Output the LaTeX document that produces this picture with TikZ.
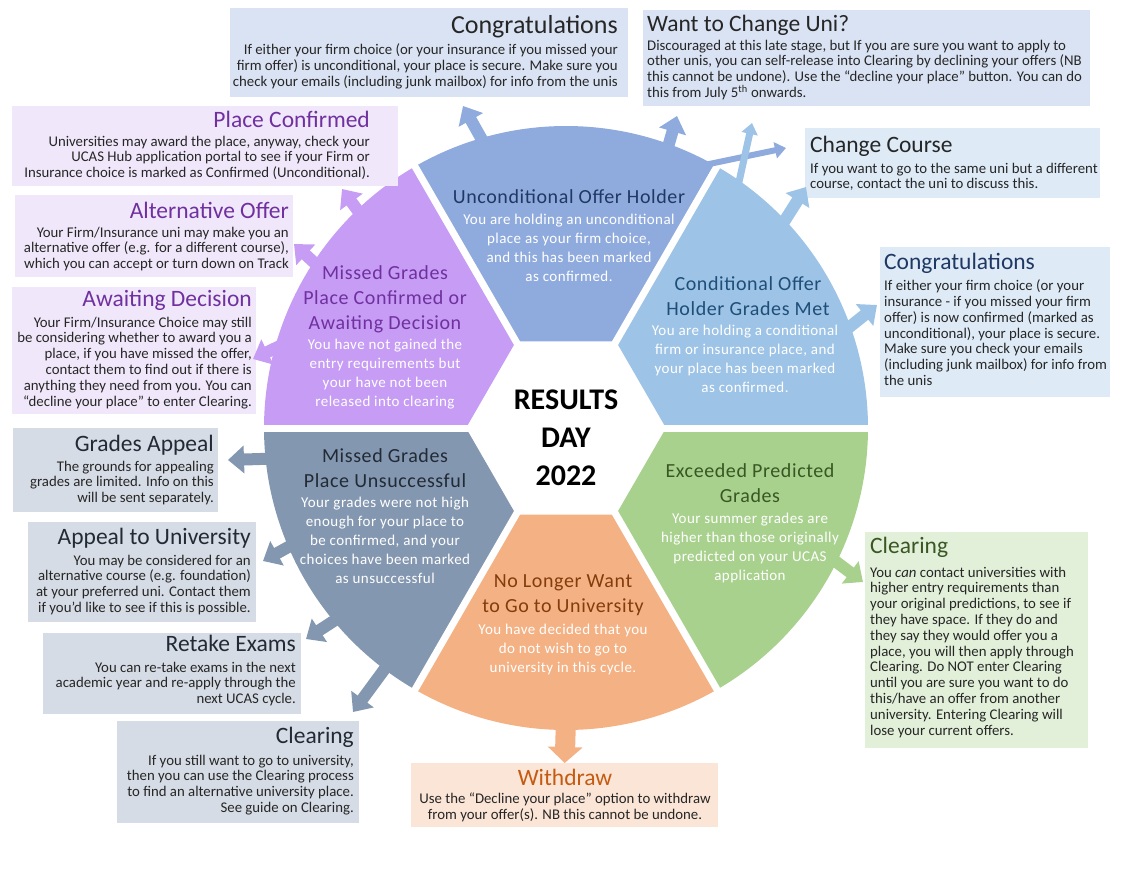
\documentclass[tikz,border=0pt]{standalone}
\usepackage{fontspec}
\setmainfont{Carlito}
\newfontfamily\segfont[LetterSpace=3]{Carlito}
\usetikzlibrary{positioning, arrows.meta, calc}

\definecolor{uncondFill}{HTML}{8FAADC}
\definecolor{condFill}{HTML}{9DC3E6}
\definecolor{exceedFill}{HTML}{A9D18E}
\definecolor{quitFill}{HTML}{F4B183}
\definecolor{unsuccFill}{HTML}{8497B0}
\definecolor{missedFill}{HTML}{C69CF4}
\definecolor{uncondText}{HTML}{203864}
\definecolor{condText}{HTML}{1F4E79}
\definecolor{exceedText}{HTML}{385723}
\definecolor{quitText}{HTML}{843C0C}
\definecolor{unsuccText}{HTML}{222A35}
\definecolor{missedText}{HTML}{7030A0}
\definecolor{blueBox}{HTML}{DAE3F3}
\definecolor{paleBox}{HTML}{DEEBF7}
\definecolor{lilacBox}{HTML}{F0E8FA}
\definecolor{slateBox}{HTML}{D6DCE5}
\definecolor{peachBox}{HTML}{FBE5D6}
\definecolor{mintBox}{HTML}{E2F0D9}
\definecolor{bodyText}{HTML}{262626}
\definecolor{greyTitle}{HTML}{262626}
\definecolor{navyTitle}{HTML}{1F3864}
\definecolor{withdrawText}{HTML}{C55A11}

\tikzset{
    segtitle/.style={align=center, inner sep=0pt, font=\segfont\fontsize{20}{25}\selectfont},
    segbody/.style={align=center, inner sep=0pt, text=white, font=\segfont\fontsize{15}{19}\selectfont},
    infobox/.style={fill=#1, inner sep=0pt, anchor=north west},
    boxtitle/.style={inner sep=0pt, text height=16pt, text depth=5pt, font=\fontsize{23.5}{26}\selectfont},
    boxbody/.style={inner sep=0pt, text=bodyText, font=\fontsize{14.8}{15.8}\selectfont},
    gap/.style={white, line width=7pt},
    fatarrow/.style={line width=12pt, -{Triangle[length=16pt, width=27pt]}},
    thinarrow/.style={line width=7pt, -{Triangle[length=11pt, width=16pt]}},
    widearrow/.style={line width=20pt, -{Triangle[length=16pt, width=34pt]}}
}

\begin{document}
\begin{tikzpicture}[x=1pt, y=-1pt, node distance=5pt]
    \useasboundingbox (0,0) rectangle (1123,869);
    \coordinate (C) at (566,428);

    % segments of the wheel
    \fill[uncondFill] ($(C)+(-120:100)$) -- ($(C)+(-120:302)$) arc[start angle=-120, end angle=-60, radius=302] -- ($(C)+(-60:100)$) -- cycle;
    \fill[condFill] ($(C)+(-60:100)$) -- ($(C)+(-60:302)$) arc[start angle=-60, end angle=0, radius=302] -- ($(C)+(0:100)$) -- cycle;
    \fill[exceedFill] ($(C)+(0:100)$) -- ($(C)+(0:302)$) arc[start angle=0, end angle=60, radius=302] -- ($(C)+(60:100)$) -- cycle;
    \fill[quitFill] ($(C)+(60:100)$) -- ($(C)+(60:302)$) arc[start angle=60, end angle=120, radius=302] -- ($(C)+(120:100)$) -- cycle;
    \fill[unsuccFill] ($(C)+(120:100)$) -- ($(C)+(120:302)$) arc[start angle=120, end angle=180, radius=302] -- ($(C)+(180:100)$) -- cycle;
    \fill[missedFill] ($(C)+(180:100)$) -- ($(C)+(180:302)$) arc[start angle=180, end angle=240, radius=302] -- ($(C)+(240:100)$) -- cycle;

    \draw[gap] (C) -- ($(C)+(-120:310)$);
    \draw[gap] (C) -- ($(C)+(-60:310)$);
    \draw[gap] (C) -- ($(C)+(0:310)$);
    \draw[gap] (C) -- ($(C)+(60:310)$);
    \draw[gap] (C) -- ($(C)+(120:310)$);
    \draw[gap] (C) -- ($(C)+(180:310)$);

    % arrow ends
    \coordinate (u1) at ($(C)+(-106:295)$);
    \coordinate (u2) at ($(C)+(-70:295)$);
    \coordinate (u3) at ($(C)+(-64:290)$);
    \coordinate (c1) at ($(C)+(-54:290)$);
    \coordinate (c2) at ($(C)+(-43:292)$);
    \coordinate (c3) at ($(C)+(-19:292)$);
    \coordinate (g1) at ($(C)+(26:292)$);
    \coordinate (q1) at ($(C)+(90:290)$);
    \coordinate (s1) at ($(C)+(174:292)$);
    \coordinate (s2) at ($(C)+(157:292)$);
    \coordinate (s3) at ($(C)+(140:290)$);
    \coordinate (s4) at ($(C)+(127:285)$);
    \coordinate (m1) at ($(C)+(-134:292)$);
    \coordinate (m2) at ($(C)+(-147:292)$);
    \coordinate (m3) at ($(C)+(-163:292)$);
    \coordinate (u1t) at (463,106);
    \coordinate (u2t) at (677,116);
    \coordinate (u3t) at (786,148);
    \coordinate (c1t) at (752,123);
    \coordinate (c2t) at (806,187);
    \coordinate (c3t) at (877,305);
    \coordinate (g1t) at (863,582);
    \coordinate (s1t) at (228,460);
    \coordinate (s2t) at (263,561);
    \coordinate (s3t) at (306,639);
    \coordinate (s4t) at (353,712);
    \coordinate (m1t) at (342,189);
    \coordinate (m2t) at (294,244);
    \coordinate (m3t) at (253,359);

    % boxes
    \node[infobox=blueBox, minimum width=398pt, minimum height=89pt] (cT) at (230,8) {};
    \node[infobox=blueBox, minimum width=447pt, minimum height=96pt] (cU) at (643,10) {};
    \node[infobox=lilacBox, minimum width=386pt, minimum height=80pt] (pc) at (12,106) {};
    \node[infobox=paleBox, minimum width=295pt, minimum height=70pt] (cc) at (805,128) {};
    \node[infobox=lilacBox, minimum width=278pt, minimum height=82pt] (ao) at (15,195) {};
    \node[infobox=lilacBox, minimum width=244pt, minimum height=127pt] (ad) at (12,287) {};
    \node[infobox=paleBox, minimum width=230pt, minimum height=150pt] (cR) at (880,247) {};
    \node[infobox=slateBox, minimum width=205pt, minimum height=84pt] (ga) at (13,428) {};
    \node[infobox=slateBox, minimum width=228pt, minimum height=100pt] (au) at (28,522) {};
    \node[infobox=slateBox, minimum width=258pt, minimum height=81pt] (re) at (43,633) {};
    \node[infobox=slateBox, minimum width=242pt, minimum height=102pt] (cl) at (117,721) {};
    \node[infobox=peachBox, minimum width=307pt, minimum height=64pt] (wd) at (411,763) {};
    \node[infobox=mintBox, minimum width=223pt, minimum height=216pt] (cr) at (865,532) {};

    \path[fatarrow, uncondFill]
        (u1) edge (u1t)
        (u2) edge (u2t);
    \path[thinarrow, uncondFill] (u3) edge[line width=6pt] (u3t);
    \path[thinarrow, condFill] (c1) edge (c1t);
    \path[fatarrow, condFill]
        (c2) edge (c2t)
        (c3) edge (c3t);
    \path[fatarrow, exceedFill] (g1) edge (g1t);
    \path[widearrow, quitFill] (q1) edge (wd.north);
    \path[fatarrow, unsuccFill]
        (s1) edge (s1t)
        (s2) edge (s2t)
        (s3) edge (s3t)
        (s4) edge (s4t);
    \path[fatarrow, missedFill]
        (m1) edge (m1t)
        (m2) edge (m2t)
        (m3) edge (m3t);

    % box texts
    \node[boxtitle, text=greyTitle, anchor=east, font=\fontsize{26}{28}\selectfont] (cTh) at (618,28) {Congratulations};
    \node[boxbody, align=right, below left=5pt and 0pt of cTh.south east] (cTb) {If either your firm choice (or your insurance if you missed your\\firm offer) is unconditional, your place is secure. Make sure you\\check your emails (including junk mailbox) for info from the unis};
    \node[boxtitle, text=greyTitle, anchor=west] (cUh) at (647,26) {Want to Change Uni?};
    \node[boxbody, align=left, below right=3pt and 0pt of cUh.south west] (cUb) {Discouraged at this late stage, but If you are sure you want to apply to\\other unis, you can self-release into Clearing by declining your offers (NB\\this cannot be undone). Use the “decline your place” button. You can do\\this from July 5\textsuperscript{th} onwards.};
    \node[boxtitle, text=missedText, anchor=east] (pch) at (370,122) {Place Confirmed};
    \node[boxbody, align=right, below left=3pt and 0pt of pch.south east] (pcb) {Universities may award the place, anyway, check your\\UCAS Hub application portal to see if your Firm or\\Insurance choice is marked as Confirmed (Unconditional).};
    \node[boxtitle, text=greyTitle, anchor=west] (cch) at (810,147) {Change Course};
    \node[boxbody, align=left, below right=5pt and 0pt of cch.south west] (ccb) {If you want to go to the same uni but a different\\course, contact the uni to discuss this.};
    \node[boxtitle, text=missedText, anchor=east] (aoh) at (289,213) {Alternative Offer};
    \node[boxbody, align=right, below left=3pt and 0pt of aoh.south east] (aob) {Your Firm/Insurance uni may make you an\\alternative offer (e.g. for a different course),\\which you can accept or turn down on Track};
    \node[boxtitle, text=missedText, anchor=east] (adh) at (252,301) {Awaiting Decision};
    \node[boxbody, align=right, below left=5pt and 0pt of adh.south east] (adb) {Your Firm/Insurance Choice may still\\be considering whether to award you a\\place, if you have missed the offer,\\contact them to find out if there is\\anything they need from you. You can\\“decline your place” to enter Clearing.};
    \node[boxtitle, text=navyTitle, anchor=west] (cRh) at (884,264) {Congratulations};
    \node[boxbody, align=left, below right=5pt and 0pt of cRh.south west] (cRb) {If either your firm choice (or your\\insurance - if you missed your firm\\offer) is now confirmed (marked as\\unconditional), your place is secure.\\Make sure you check your emails\\(including junk mailbox) for info from\\the unis};
    \node[boxtitle, text=unsuccText, anchor=east] (gah) at (214,446) {Grades Appeal};
    \node[boxbody, align=right, below left=4pt and 0pt of gah.south east] (gab) {The grounds for appealing\\grades are limited. Info on this\\will be sent separately.};
    \node[boxtitle, text=unsuccText, anchor=east] (auh) at (251,539) {Appeal to University};
    \node[boxbody, align=right, below left=5pt and 0pt of auh.south east] (aub) {You may be considered for an\\alternative course (e.g. foundation)\\at your preferred uni. Contact them\\if you’d like to see if this is possible.};
    \node[boxtitle, text=unsuccText, anchor=east] (reh) at (296,646) {Retake Exams};
    \node[boxbody, align=right, below left=5pt and 0pt of reh.south east] (reb) {You can re-take exams in the next\\academic year and re-apply through the\\next UCAS cycle.};
    \node[boxtitle, text=unsuccText, anchor=east] (clh) at (354,738) {Clearing};
    \node[boxbody, align=right, below left=6pt and 0pt of clh.south east] (clb) {If you still want to go to university,\\then you can use the Clearing process\\to find an alternative university place.\\See guide on Clearing.};
    \node[boxtitle, text=withdrawText] (wdh) at (565,780) {Withdraw};
    \node[boxbody, align=center, below=2pt of wdh] (wdb) {Use the “Decline your place” option to withdraw\\from your offer(s). NB this cannot be undone.};
    \node[boxtitle, text=exceedText, anchor=west] (crh) at (870,548) {Clearing};
    \node[boxbody, align=left, below right=8pt and 0pt of crh.south west] (crb) {You \emph{can} contact universities with\\higher entry requirements than\\your original predictions, to see if\\they have space. If they do and\\they say they would offer you a\\place, you will then apply through\\Clearing. Do NOT enter Clearing\\until you are sure you want to do\\this/have an offer from another\\university. Entering Clearing will\\lose your current offers.};

    % wheel texts
    \node[segtitle, text=uncondText] (uncondH) at (569,197) {Unconditional Offer Holder};
    \node[segbody] (uncondB) at (569,248) {You are holding an unconditional\\place as your firm choice,\\and this has been marked\\as confirmed.};
    \node[segtitle, text=condText] (condH) at (748,296) {Conditional Offer\\Holder Grades Met};
    \node[segbody] (condB) at (745,359) {You are holding a conditional\\firm or insurance place, and\\your place has been marked\\as confirmed.};
    \node[segtitle, text=exceedText] (exceedH) at (750,483) {Exceeded Predicted\\Grades};
    \node[segbody] (exceedB) at (750,548) {Your summer grades are\\higher than those originally\\predicted on your UCAS\\application};
    \node[segtitle, text=quitText] (quitH) at (563,595) {No Longer Want\\to Go to University};
    \node[segbody] (quitB) at (563,649) {You have decided that you\\do not wish to go to\\university in this cycle.};
    \node[segtitle, text=unsuccText] (unsuccH) at (385,468) {Missed Grades\\Place Unsuccessful};
    \node[segbody] (unsuccB) at (385,540) {Your grades were not high\\enough for your place to\\be confirmed, and your\\choices have been marked\\as unsuccessful};
    \node[segtitle, text=missedText] (missedH) at (385,299) {Missed Grades\\Place Confirmed or\\Awaiting Decision};
    \node[segbody] (missedB) at (385,374) {You have not gained the\\entry requirements but\\your have not been\\released into clearing};

    \node[font=\bfseries\fontsize{30}{38}\selectfont, align=center] (results) at (566,438) {RESULTS\\DAY\\2022};
\end{tikzpicture}
\end{document}
